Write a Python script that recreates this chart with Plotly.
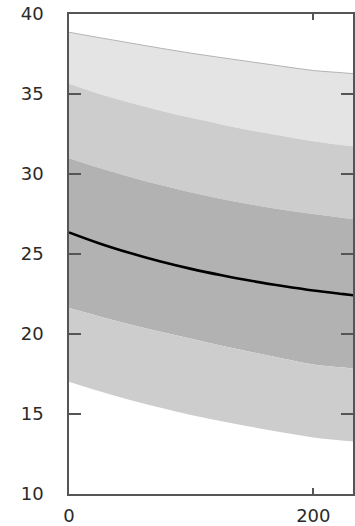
import plotly.graph_objects as go

x = [0, 25, 50, 75, 100, 125, 150, 175, 200, 225, 240]
outer_upper = [38.86, 38.52, 38.19, 37.86, 37.55, 37.27, 37.00, 36.73, 36.47, 36.32, 36.22]
middle_upper = [35.64, 35.00, 34.45, 33.96, 33.51, 33.10, 32.71, 32.37, 32.05, 31.80, 31.68]
inner_upper = [30.98, 30.37, 29.82, 29.31, 28.84, 28.44, 28.08, 27.77, 27.50, 27.25, 27.12]
median = [26.35, 25.66, 25.06, 24.53, 24.07, 23.67, 23.31, 23.00, 22.72, 22.49, 22.36]
inner_lower = [21.62, 21.10, 20.60, 20.14, 19.71, 19.27, 18.86, 18.47, 18.10, 17.90, 17.80]
middle_lower = [17.02, 16.42, 15.88, 15.39, 14.94, 14.54, 14.18, 13.84, 13.53, 13.33, 13.24]

y_ticks = [10, 15, 20, 25, 30, 35, 40]
x_ticks = [0, 200]

c_light = "#e4e4e4"
c_mid = "#cdcdcd"
c_dark = "#b2b2b2"

fig = go.Figure()

def band(upper, lower, color):
    fig.add_trace(go.Scatter(x=x, y=lower, mode="lines", line=dict(width=0, shape="spline"),
                             hoverinfo="skip", showlegend=False))
    fig.add_trace(go.Scatter(x=x, y=upper, mode="lines", line=dict(width=0, shape="spline"),
                             fill="tonexty", fillcolor=color, hoverinfo="skip", showlegend=False))

band(outer_upper, middle_upper, c_light)
band(middle_upper, inner_upper, c_mid)
band(inner_upper, inner_lower, c_dark)
band(inner_lower, middle_lower, c_mid)

fig.add_trace(go.Scatter(x=x, y=outer_upper, mode="lines",
                         line=dict(color="#b4b4b4", width=1, shape="spline"), showlegend=False))
fig.add_trace(go.Scatter(x=x, y=median, mode="lines",
                         line=dict(color="#000000", width=2.6, shape="spline"), showlegend=False))

font = dict(family="DejaVu Sans", size=18, color="#2a2a2a")

fig.update_layout(
    width=355, height=526,
    margin=dict(l=69, r=0, t=14, b=30),
    plot_bgcolor="white", paper_bgcolor="white",
    showlegend=False,
    xaxis=dict(range=[0, 232.5], tickvals=x_ticks, ticktext=[str(v) for v in x_ticks],
               ticks="inside", ticklen=6, tickwidth=1.5, tickcolor="#555555",
               showline=True, linecolor="#555555", linewidth=1.5, mirror="ticks",
               showgrid=False, zeroline=False, tickfont=font, ticklabelstandoff=5),
    yaxis=dict(range=[10, 40], tickvals=y_ticks, ticktext=[str(v) for v in y_ticks],
               ticks="inside", ticklen=12, tickwidth=1.5, tickcolor="#555555",
               showline=True, linecolor="#555555", linewidth=1.5, mirror="ticks",
               showgrid=False, zeroline=False, tickfont=font, ticklabelstandoff=20),
)

fig.write_html("out.html")
